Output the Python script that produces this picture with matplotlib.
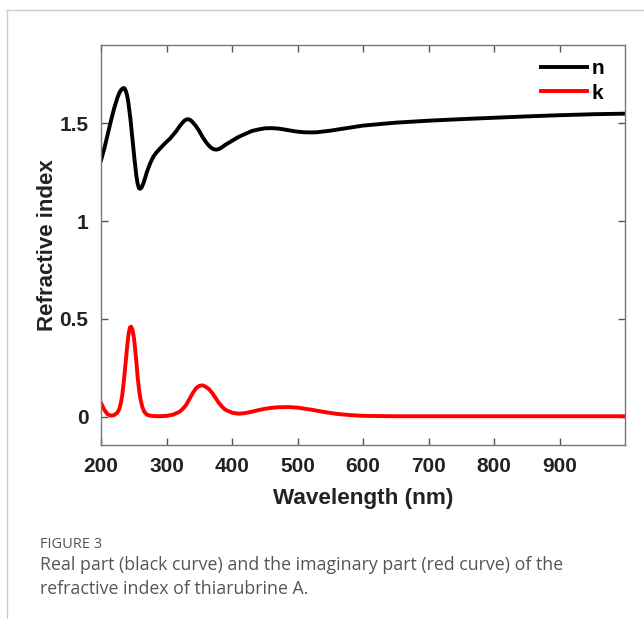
import numpy as np
import matplotlib
matplotlib.use("Agg")
import matplotlib.pyplot as plt
from matplotlib.lines import Line2D

# wavelength (nm) and real part n
wl_n = [200, 205, 210, 215, 220, 225, 228, 231, 234, 236, 238, 240, 242, 245,
        248, 251, 254, 256, 258, 260, 262, 265, 270, 275, 280, 285, 290, 295,
        300, 305, 310, 315, 320, 325, 328, 331, 334, 337, 340, 345, 350, 355,
        360, 364, 368, 372, 376, 380, 385, 390, 400, 410, 420, 430, 440, 450,
        460, 470, 480, 490, 500, 510, 520, 530, 550, 575, 600, 650, 700, 750,
        800, 850, 900, 950, 1000]
n_vals = [1.31, 1.37, 1.44, 1.51, 1.575, 1.63, 1.655, 1.672, 1.68, 1.678,
          1.665, 1.64, 1.60, 1.52, 1.42, 1.32, 1.23, 1.19, 1.168, 1.165,
          1.172, 1.195, 1.25, 1.295, 1.33, 1.352, 1.37, 1.388, 1.405, 1.42,
          1.44, 1.46, 1.485, 1.505, 1.515, 1.52, 1.52, 1.515, 1.505, 1.485,
          1.46, 1.43, 1.405, 1.388, 1.375, 1.367, 1.365, 1.368, 1.378, 1.39,
          1.41, 1.43, 1.445, 1.46, 1.468, 1.474, 1.475, 1.473, 1.468, 1.462,
          1.457, 1.454, 1.453, 1.454, 1.462, 1.475, 1.488, 1.503, 1.513,
          1.521, 1.528, 1.535, 1.541, 1.546, 1.549]

# wavelength (nm) and imaginary part k
wl_k = [200, 205, 210, 215, 220, 225, 228, 230, 232, 234, 236, 238, 240, 242,
        244, 246, 248, 250, 252, 254, 256, 258, 260, 263, 266, 270, 275, 280,
        290, 300, 310, 320, 325, 330, 335, 340, 345, 350, 355, 360, 365, 370,
        375, 380, 385, 390, 400, 410, 420, 430, 440, 450, 460, 470, 485, 500,
        520, 540, 560, 580, 600, 650, 700, 1000]
k_vals = [0.07, 0.035, 0.012, 0.005, 0.008, 0.02, 0.04, 0.065, 0.10, 0.155,
          0.22, 0.29, 0.36, 0.42, 0.455, 0.46, 0.445, 0.41, 0.35, 0.28, 0.20,
          0.14, 0.095, 0.05, 0.025, 0.01, 0.005, 0.003, 0.002, 0.004, 0.01,
          0.025, 0.04, 0.06, 0.09, 0.12, 0.145, 0.157, 0.16, 0.153, 0.14,
          0.12, 0.095, 0.07, 0.05, 0.035, 0.02, 0.015, 0.018, 0.025, 0.033,
          0.04, 0.045, 0.048, 0.049, 0.046, 0.036, 0.024, 0.014, 0.008,
          0.004, 0.002, 0.002, 0.002]

xticks = [200, 300, 400, 500, 600, 700, 800, 900]
yticks = [0, 0.5, 1, 1.5]
ytick_labels = ["0", "0.5", "1", "1.5"]

plt.rcParams['font.family'] = ['Liberation Sans', 'DejaVu Sans']

fig = plt.figure(figsize=(6.44, 6.19), dpi=100)
ax = fig.add_axes([101/644, 1-445/619, 524/644, 400/619])

ax.plot(wl_n, n_vals, color='black', lw=2.8, label='n',
        solid_joinstyle='round')
ax.plot(wl_k, k_vals, color='red', lw=2.8, label='k',
        solid_joinstyle='round')

ax.set_xlim(200, 1000)
ax.set_ylim(-0.145, 1.9)
ax.set_xticks(xticks)
ax.set_yticks(yticks)
ax.set_yticklabels(ytick_labels)
ax.tick_params(direction='in', length=5, width=1, color='#555555',
               top=True, right=True, labelsize=15, pad=9)
for lab in ax.get_xticklabels() + ax.get_yticklabels():
    lab.set_fontweight('bold')
    lab.set_color('#222222')
for sp in ax.spines.values():
    sp.set_color('#777777')
    sp.set_linewidth(1)

ax.set_xlabel('Wavelength (nm)', fontsize=16.2, fontweight='bold',
              color='#222222', labelpad=8)
ax.set_ylabel('Refractive index', fontsize=16, fontweight='bold',
              color='#222222', labelpad=1)

leg = ax.legend(loc='upper right', frameon=False, fontsize=15,
                handlelength=2.2, handletextpad=0.25, labelspacing=0.25,
                bbox_to_anchor=(0.977, 0.985), borderaxespad=0)
for t in leg.get_texts():
    t.set_fontweight('bold')

# panel frame lines
fig.add_artist(Line2D([7/644, 1], [1-10/619, 1-10/619], color='#cccccc', lw=1))
fig.add_artist(Line2D([7/644, 7/644], [0, 1-10/619], color='#cccccc', lw=1))

# caption
fig.text(40/644, 1-545/619, 'FIGURE 3', fontsize=10.5, color='#555555',
         family=['Open Sans', 'DejaVu Sans'], va='center')
fig.text(40/644, 1-565/619,
         'Real part (black curve) and the imaginary part (red curve) of the',
         fontsize=12.8, color='#555555', family=['Open Sans', 'DejaVu Sans'],
         va='center')
fig.text(40/644, 1-589/619, 'refractive index of thiarubrine A.',
         fontsize=12.8, color='#555555', family=['Open Sans', 'DejaVu Sans'],
         va='center')

fig.savefig('out.png', dpi=100)
